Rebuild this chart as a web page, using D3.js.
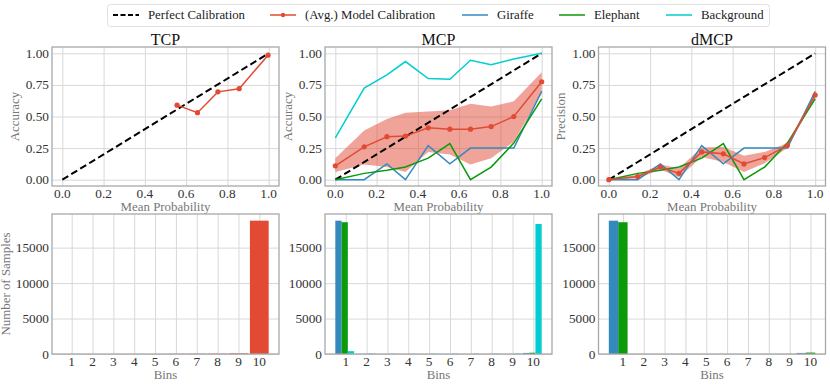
<!DOCTYPE html>
<html>
<head>
<meta charset="utf-8">
<script src="https://cdn.jsdelivr.net/npm/d3@7"></script>
<style>
  body { margin: 0; background: #fff; }
  svg { font-family: "Liberation Serif", "DejaVu Serif", serif; }
  .grid line { stroke: #d8d8d8; stroke-width: 1; }
  .grid path { display: none; }
  .tick-label { font-size: 13.3px; fill: #333; }
  .axis-label { font-size: 12.9px; fill: #777; }
  .title { font-size: 16px; fill: #111; }
  .legend-text { font-size: 12.8px; fill: #222; }
</style>
</head>
<body>
<svg width="830" height="386"></svg>
<script>
// mean probability of each bin (x of the reliability curves)
var binX = [0.0, 0.14, 0.25, 0.34, 0.45, 0.555, 0.655, 0.755, 0.865, 1.0];
var bins = [1, 2, 3, 4, 5, 6, 7, 8, 9, 10];

// TCP
var tcpX = [0.556, 0.655, 0.754, 0.857, 0.997];
var tcpY = [0.59, 0.53, 0.695, 0.72, 0.985];
var tcpCounts = [0, 0, 0, 0, 0, 25, 35, 45, 90, 18800];

// MCP
var mcpGiraffe = [0, 0, 0.125, 0, 0.27, 0.125, 0.25, 0.25, 0.25, 0.70];
var mcpElephant = [0, 0.05, 0.075, 0.10, 0.17, 0.285, 0, 0.10, 0.29, 0.64];
var mcpBackground = [0.33, 0.725, 0.83, 0.935, 0.80, 0.795, 0.945, 0.91, 0.955, 1.0];
var mcpAvg = [0.11, 0.26, 0.34, 0.345, 0.41, 0.40, 0.40, 0.42, 0.50, 0.775];
var mcpLow = [0.06, 0.12, 0.10, 0.06, 0.22, 0.20, 0.12, 0.17, 0.30, 0.68];
var mcpHigh = [0.17, 0.39, 0.48, 0.53, 0.54, 0.55, 0.60, 0.58, 0.62, 0.85];
var mcpGiraffeCounts = [18820, 10, 5, 5, 5, 5, 5, 5, 10, 150];
var mcpElephantCounts = [18600, 10, 5, 5, 5, 5, 5, 5, 10, 180];
var mcpBackgroundCounts = [400, 60, 40, 30, 40, 50, 40, 50, 60, 18350];

// dMCP
var dmcpGiraffe = [0, 0, 0.125, 0, 0.27, 0.125, 0.25, 0.25, 0.25, 0.70];
var dmcpElephant = [0, 0.05, 0.075, 0.10, 0.17, 0.285, 0, 0.10, 0.29, 0.64];
var dmcpAvg = [0, 0.025, 0.10, 0.05, 0.22, 0.205, 0.125, 0.175, 0.27, 0.67];
var dmcpLow = [0, 0.01, 0.08, 0.02, 0.18, 0.14, 0.06, 0.13, 0.25, 0.645];
var dmcpHigh = [0.005, 0.04, 0.12, 0.09, 0.255, 0.26, 0.19, 0.22, 0.29, 0.69];
var dmcpGiraffeCounts = [18820, 10, 5, 5, 5, 5, 5, 5, 10, 150];
var dmcpElephantCounts = [18600, 10, 5, 5, 5, 5, 5, 5, 10, 200];

var probTicks = [0, 0.2, 0.4, 0.6, 0.8, 1.0];
var accTicks = [0, 0.25, 0.5, 0.75, 1.0];
var countTicks = [0, 5000, 10000, 15000];

var colors = {
    model: '#E24A33',
    giraffe: '#348ABD',
    elephant: '#0A9A0A',
    background: '#00CED1'
};

var svg = d3.select('svg');

var colX = [52, 325, 598.5];
var colW = 227;
var topRow = {y: 47, h: 139};
var bottomRow = {y: 214, h: 140};

function frame(g, w, h) {
    g.append('rect')
        .attr('width', w).attr('height', h)
        .attr('fill', 'none')
        .attr('stroke', '#a8a8a8')
        .attr('stroke-width', 1.3);
}

// ---- top row: reliability diagrams ----
function drawReliability(i, title, yLabel, opts) {
    var g = svg.append('g').attr('transform', 'translate(' + [colX[i], topRow.y] + ')');
    var x = d3.scaleLinear().domain([-0.05, 1.05]).range([0, colW]);
    var y = d3.scaleLinear().domain([-0.05, 1.05]).range([topRow.h, 0]);

    g.append('g').attr('class', 'grid')
        .call(d3.axisBottom(x).tickValues(probTicks).tickSize(topRow.h).tickFormat(''));
    g.append('g').attr('class', 'grid')
        .call(d3.axisLeft(y).tickValues(accTicks).tickSize(-colW).tickFormat(''));

    g.selectAll('.xl').data(probTicks).enter().append('text')
        .attr('class', 'tick-label')
        .attr('x', function(d) { return x(d); })
        .attr('y', topRow.h + 11.8)
        .attr('text-anchor', 'middle')
        .text(d3.format('.1f'));
    g.selectAll('.yl').data(accTicks).enter().append('text')
        .attr('class', 'tick-label')
        .attr('x', -3)
        .attr('y', function(d) { return y(d) + 4.5; })
        .attr('text-anchor', 'end')
        .text(d3.format('.2f'));

    g.append('text').attr('class', 'axis-label')
        .attr('x', colW / 2).attr('y', topRow.h + 24.5)
        .attr('text-anchor', 'middle')
        .text('Mean Probability');
    g.append('text').attr('class', 'axis-label')
        .attr('transform', 'translate(' + [-33.5, topRow.h / 2] + ') rotate(-90)')
        .attr('text-anchor', 'middle')
        .text(yLabel);
    g.append('text').attr('class', 'title')
        .attr('x', colW / 2).attr('y', -2)
        .attr('text-anchor', 'middle')
        .text(title);

    var line = d3.line().x(function(d) { return x(d[0]); }).y(function(d) { return y(d[1]); });

    if (opts.band) {
        var area = d3.area()
            .x(function(d) { return x(d[0]); })
            .y0(function(d) { return y(d[1]); })
            .y1(function(d) { return y(d[2]); });
        g.append('path')
            .datum(d3.zip(opts.bandX, opts.band[0], opts.band[1]))
            .attr('d', area)
            .attr('fill', colors.model)
            .attr('fill-opacity', 0.5);
    }

    g.append('path')
        .datum([[0, 0], [1, 1]])
        .attr('d', line)
        .attr('fill', 'none')
        .attr('stroke', '#000')
        .attr('stroke-width', 2)
        .attr('stroke-dasharray', '7,3.5');

    opts.series.forEach(function(s) {
        g.append('path')
            .datum(d3.zip(s.x, s.y))
            .attr('d', line)
            .attr('fill', 'none')
            .attr('stroke', s.color)
            .attr('stroke-width', 1.5);
    });

    var pts = d3.zip(opts.avgX, opts.avgY);
    g.append('path')
        .datum(pts)
        .attr('d', line)
        .attr('fill', 'none')
        .attr('stroke', colors.model)
        .attr('stroke-width', 1.5);
    g.selectAll('.pt').data(pts).enter().append('circle')
        .attr('cx', function(d) { return x(d[0]); })
        .attr('cy', function(d) { return y(d[1]); })
        .attr('r', 2.6)
        .attr('fill', colors.model);
}

drawReliability(0, 'TCP', 'Accuracy', {
    avgX: tcpX, avgY: tcpY, series: []
});
drawReliability(1, 'MCP', 'Accuracy', {
    avgX: binX, avgY: mcpAvg,
    bandX: binX, band: [mcpLow, mcpHigh],
    series: [
        {x: binX, y: mcpBackground, color: colors.background},
        {x: binX, y: mcpGiraffe, color: colors.giraffe},
        {x: binX, y: mcpElephant, color: colors.elephant}
    ]
});
drawReliability(2, 'dMCP', 'Precision', {
    avgX: binX, avgY: dmcpAvg,
    bandX: binX, band: [dmcpLow, dmcpHigh],
    series: [
        {x: binX, y: dmcpGiraffe, color: colors.giraffe},
        {x: binX, y: dmcpElephant, color: colors.elephant}
    ]
});

// ---- bottom row: bin counts ----
function drawCounts(i, groups, showLabel) {
    var g = svg.append('g').attr('transform', 'translate(' + [colX[i], bottomRow.y] + ')');

    // horizontal extent of the bars, plus 5% margin like matplotlib
    var lo = d3.min(groups, function(s) { return 1 + s.offset - s.width / 2; });
    var hi = d3.max(groups, function(s) { return 10 + s.offset + s.width / 2; });
    var m = (hi - lo) * 0.05;
    var x = d3.scaleLinear().domain([lo - m, hi + m]).range([0, colW]);
    var maxC = d3.max(groups, function(s) { return d3.max(s.counts); });
    var y = d3.scaleLinear().domain([0, maxC * 1.05]).range([bottomRow.h, 0]);

    g.append('g').attr('class', 'grid')
        .call(d3.axisBottom(x).tickValues(bins).tickSize(bottomRow.h).tickFormat(''));
    g.append('g').attr('class', 'grid')
        .call(d3.axisLeft(y).tickValues(countTicks).tickSize(-colW).tickFormat(''));

    groups.forEach(function(s) {
        g.selectAll(null).data(d3.zip(bins, s.counts)).enter().append('rect')
            .attr('x', function(d) { return x(d[0] + s.offset - s.width / 2); })
            .attr('width', x(s.width) - x(0))
            .attr('y', function(d) { return y(d[1]); })
            .attr('height', function(d) { return bottomRow.h - y(d[1]); })
            .attr('fill', s.color);
    });

    g.selectAll('.xl').data(bins).enter().append('text')
        .attr('class', 'tick-label')
        .attr('x', function(d) { return x(d); })
        .attr('y', bottomRow.h + 12.3)
        .attr('text-anchor', 'middle')
        .text(function(d) { return d; });
    g.selectAll('.yl').data(countTicks).enter().append('text')
        .attr('class', 'tick-label')
        .attr('x', -3)
        .attr('y', function(d) { return y(d) + 4.5; })
        .attr('text-anchor', 'end')
        .text(function(d) { return d; });

    g.append('text').attr('class', 'axis-label')
        .attr('x', colW / 2).attr('y', bottomRow.h + 25)
        .attr('text-anchor', 'middle')
        .text('Bins');
    if (showLabel) {
        g.append('text').attr('class', 'axis-label')
            .attr('transform', 'translate(' + [-42, bottomRow.h / 2] + ') rotate(-90)')
            .attr('text-anchor', 'middle')
            .text('Number of Samples');
    }
    frame(g, colW, bottomRow.h);
}

drawCounts(0, [
    {counts: tcpCounts, offset: 0, width: 0.9, color: colors.model}
], true);
drawCounts(1, [
    {counts: mcpGiraffeCounts, offset: -0.35, width: 0.3, color: colors.giraffe},
    {counts: mcpElephantCounts, offset: -0.05, width: 0.3, color: colors.elephant},
    {counts: mcpBackgroundCounts, offset: 0.25, width: 0.3, color: colors.background}
], false);
drawCounts(2, [
    {counts: dmcpGiraffeCounts, offset: -0.45, width: 0.45, color: colors.giraffe},
    {counts: dmcpElephantCounts, offset: 0, width: 0.45, color: colors.elephant}
], false);

// frames for the top row drawn last so they sit above the lines
[0, 1, 2].forEach(function(i) {
    frame(svg.append('g').attr('transform', 'translate(' + [colX[i], topRow.y] + ')'), colW, topRow.h);
});

// ---- legend ----
var legendItems = [
    {label: 'Perfect Calibration', x: 113, color: '#000', dash: '5,2.5', marker: false},
    {label: '(Avg.) Model Calibration', x: 270, color: colors.model, dash: null, marker: true},
    {label: 'Giraffe', x: 462, color: colors.giraffe, dash: null, marker: false},
    {label: 'Elephant', x: 559, color: colors.elephant, dash: null, marker: false},
    {label: 'Background', x: 666, color: colors.background, dash: null, marker: false}
];
var legend = svg.append('g');
legend.append('rect')
    .attr('x', 107.5).attr('y', 4.5)
    .attr('width', 662).attr('height', 22)
    .attr('rx', 3)
    .attr('fill', '#fff')
    .attr('stroke', '#e0e0e0');
var li = legend.selectAll('.li').data(legendItems).enter().append('g')
    .attr('transform', function(d) { return 'translate(' + [d.x, 15] + ')'; });
li.append('line')
    .attr('x1', 0).attr('x2', 26)
    .attr('stroke', function(d) { return d.color; })
    .attr('stroke-width', function(d) { return d.dash ? 2 : 1.5; })
    .attr('stroke-dasharray', function(d) { return d.dash; });
li.filter(function(d) { return d.marker; }).append('circle')
    .attr('cx', 13).attr('r', 2.2).attr('fill', colors.model);
li.append('text')
    .attr('class', 'legend-text')
    .attr('x', 35).attr('y', 4.3)
    .text(function(d) { return d.label; });
</script>
</body>
</html>
